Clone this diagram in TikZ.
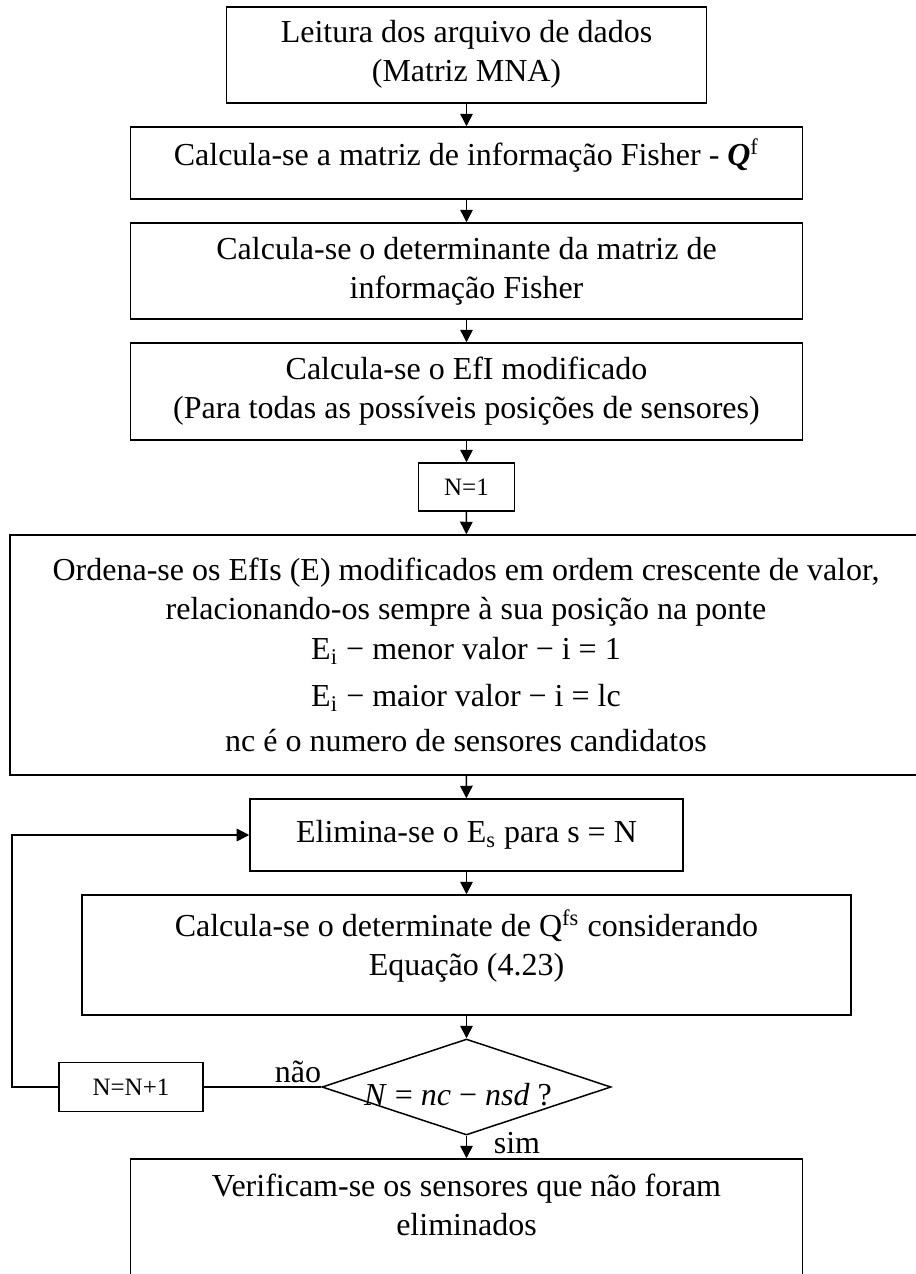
\documentclass[tikz,border=0pt]{standalone}
\usepackage{fontspec}
\setmainfont{Liberation Serif}
\usetikzlibrary{arrows.meta,shapes.geometric}
\tikzset{procbox/.style={draw, line width=0.6pt, rectangle, inner sep=0pt, align=center, font=\fontsize{12.8}{15.6}\selectfont}}
\tikzset{smallbox/.style={procbox, font=\fontsize{10}{12}\selectfont}}
\tikzset{decide/.style={draw, line width=0.6pt, diamond, inner sep=0pt}}
\tikzset{arr/.style={draw, line width=0.6pt, -{Triangle[length=5pt,width=5pt]}}}
\tikzset{lbl/.style={font=\fontsize{12.8}{15.6}\selectfont, inner sep=0pt}}

\begin{document}
\begin{tikzpicture}[x=0.4pt, y=-0.4pt]
		\useasboundingbox (0,0) rectangle (915,1274);
		
		\node[procbox, minimum width=192pt, minimum height=38.4pt] (read) at (466.5,55){Leitura dos arquivo de dados\\(Matriz MNA)\\[-12pt]};
		\node[procbox, minimum width=268.8pt, minimum height=28.8pt] (fisher) at (466.5,163){Calcula-se a matriz de informação Fisher -\ \textbf{\textit{Q}}\textsuperscript{f}\\[-7pt]};
		\node[procbox, minimum width=268.8pt, minimum height=38.4pt] (det) at (466.5,271){Calcula-se o determinante da matriz de\\informação Fisher};
		\node[procbox, minimum width=268.8pt, minimum height=38.8pt] (efi) at (466.5,391.5){Calcula-se o EfI modificado\\(Para todas as possíveis posições de sensores)};
		\node[smallbox, minimum width=38.4pt, minimum height=19.2pt] (ninit) at (466.5,487){N=1};
		
		\node[procbox, minimum width=364.8pt, minimum height=96pt] (order) at (466,655){Ordena-se os EfIs (E) modificados em ordem crescente de valor,\\relacionando-os sempre à sua posição na ponte\\[0.6pt]
			E\textsubscript{i} − menor valor − i = 1\\[3.2pt]
			E\textsubscript{i} − maior valor − i = lc\\[2.4pt]
			nc é o numero de sensores candidatos};
		
		\node[procbox, minimum width=173.2pt, minimum height=28.8pt] (elim) at (466.5,835){Elimina-se o\ E\textsubscript{s} para s = N};
		\node[procbox, minimum width=307.6pt, minimum height=48pt] (qfs) at (466.5,955){Calcula-se o determinate de\ Q\textsuperscript{fs} considerando\\Equação (4.23)\\[-6pt]};
		
		\node[decide, minimum width=115.6pt, minimum height=38.4pt] (dec) at (466.5,1087){};
		\node[lbl] (dectxt) at (458,1095){\textit{N} = \textit{nc} − \textit{nsd} ?};
		\node[smallbox, minimum width=57.6pt, minimum height=19.6pt] (incr) at (131,1087){N=N+1};
		\node[procbox, minimum width=268.8pt, minimum height=52.4pt] (final) at (466.5,1224.5){Verificam-se os sensores que não foram\\eliminados\\ };
		
		\node[lbl] (nao) at (298,1072){não};
		\node[lbl] (sim) at (517,1143){sim};
		\coordinate (loopc) at (12,1087);
		
		\draw[arr] (read) -- (fisher);
		\draw[arr] (fisher) -- (det);
		\draw[arr] (det) -- (efi);
		\draw[arr] (efi) -- (ninit);
		\draw[arr] (ninit) -- (order);
		\draw[arr] (order) -- (elim);
		\draw[arr] (elim) -- (qfs);
		\draw[arr] (qfs) -- (dec);
		\draw[arr] (dec) -- (final);
		
		\draw[arr, -] (dec.west) -- (incr.east);
		\draw[arr] (incr.west) -- (loopc) |- (elim.west);
	\end{tikzpicture}
\end{document}
